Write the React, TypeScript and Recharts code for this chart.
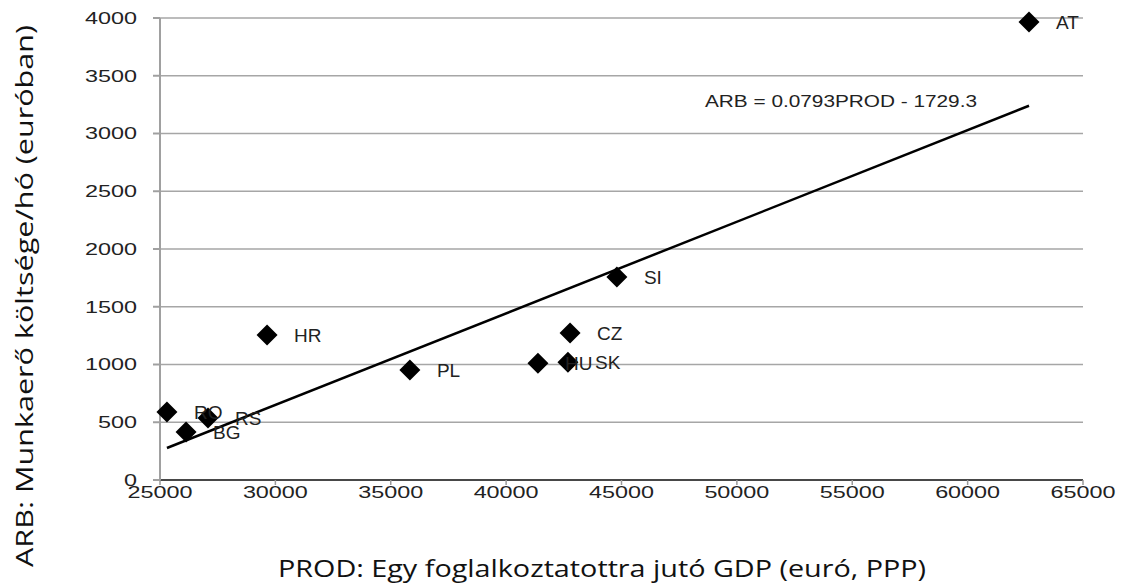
import { ScatterChart, Scatter, XAxis, YAxis, CartesianGrid, ReferenceLine, Label, Customized } from "recharts";

const countries = ["AT", "SI", "CZ", "SK", "HU", "PL", "HR", "RS", "RO", "BG"];
const prod = [62660, 44800, 42770, 42680, 41380, 35830, 29640, 27080, 25300, 26130];
const arb = [3965, 1758, 1273, 1020, 1010, 952, 1255, 537, 589, 416];

const xTicks = [25000, 30000, 35000, 40000, 45000, 50000, 55000, 60000, 65000];
const yTicks = [0, 500, 1000, 1500, 2000, 2500, 3000, 3500, 4000];

// trend line end points (ARB = 0.0793PROD - 1729.3)
const trendX = [25300, 62660];
const trendY = [277, 3240];
const equation = "ARB = 0.0793PROD - 1729.3";

const xTitle = "PROD: Egy foglalkoztatottra jutó GDP (euró, PPP)";
const yTitle = "ARB: Munkaerő költsége/hó (euróban)";

const points = countries.map((name, i) => ({ name, prod: prod[i], arb: arb[i] }));

const sans = "'Liberation Sans', Arial, sans-serif";
const titleFont = "'Open Sans', 'Noto Sans', sans-serif";

// the tick digits in the original are drawn wide
const digitW = 13;

const XTick = (props: any) => {
  const { x, y, payload } = props;
  const s = String(payload.value);
  return (
    <text
      x={x}
      y={y}
      textAnchor="middle"
      dy="0.71em"
      fontSize={16}
      fill="#222"
      fontFamily={sans}
      textLength={s.length * digitW}
      lengthAdjust="spacingAndGlyphs"
    >
      {s}
    </text>
  );
};

const YTick = (props: any) => {
  const { x, y, payload } = props;
  const s = String(payload.value);
  return (
    <text
      x={x}
      y={y}
      textAnchor="end"
      dy="0.36em"
      fontSize={16}
      fill="#222"
      fontFamily={sans}
      textLength={s.length * digitW}
      lengthAdjust="spacingAndGlyphs"
    >
      {s}
    </text>
  );
};

const Diamond = (props: any) => {
  const { cx, cy, payload } = props;
  const r = 10.5;
  return (
    <g>
      <polygon points={`${cx},${cy - r} ${cx + r},${cy} ${cx},${cy + r} ${cx - r},${cy}`} fill="#000" />
      <text x={cx + 27} y={cy} dy="0.36em" fontSize={19} fill="#222" fontFamily={sans}>
        {payload.name}
      </text>
    </g>
  );
};

export default function App() {
  return (
    <div style={{ position: "absolute", left: 0, top: 0, width: 1122, height: 588, background: "#fff" }}>
      <ScatterChart width={1122} height={588} margin={{ top: 18, right: 39, bottom: 0, left: 0 }}>
        <CartesianGrid horizontal vertical={false} stroke="#a6a6a6" strokeWidth={1.5} />
        <XAxis
          type="number"
          dataKey="prod"
          domain={[25000, 65000]}
          ticks={xTicks}
          height={108}
          tickSize={5}
          tickMargin={2}
          stroke="#222"
          strokeWidth={1.5}
          tickLine={{ stroke: "#999" }}
          tick={<XTick />}
        >
          <Label
            content={() => (
              <text x={278} y={577} textLength={648} lengthAdjust="spacingAndGlyphs" fontSize={23} fill="#111" fontFamily={titleFont}>
                {xTitle}
              </text>
            )}
          />
        </XAxis>
        <YAxis
          type="number"
          dataKey="arb"
          domain={[0, 4000]}
          ticks={yTicks}
          width={160}
          tickSize={7}
          tickMargin={16}
          stroke="#a0a0a0"
          strokeWidth={2}
          tick={<YTick />}
        >
          <Label
            content={() => (
              <text
                x={33}
                y={296}
                transform="rotate(-90 33 296)"
                textAnchor="middle"
                textLength={542}
                lengthAdjust="spacingAndGlyphs"
                fontSize={24}
                fill="#111"
                fontFamily={titleFont}
              >
                {yTitle}
              </text>
            )}
          />
        </YAxis>
        <ReferenceLine
          segment={[
            { x: trendX[0], y: trendY[0] },
            { x: trendX[1], y: trendY[1] },
          ]}
          stroke="#000"
          strokeWidth={2.5}
        />
        <Scatter data={points} shape={<Diamond />} isAnimationActive={false} />
        <Customized
          component={() => (
            <text x={705} y={101} dy="0.36em" textLength={272} lengthAdjust="spacingAndGlyphs" fontSize={16} fill="#222" fontFamily={sans}>
              {equation}
            </text>
          )}
        />
      </ScatterChart>
    </div>
  );
}
